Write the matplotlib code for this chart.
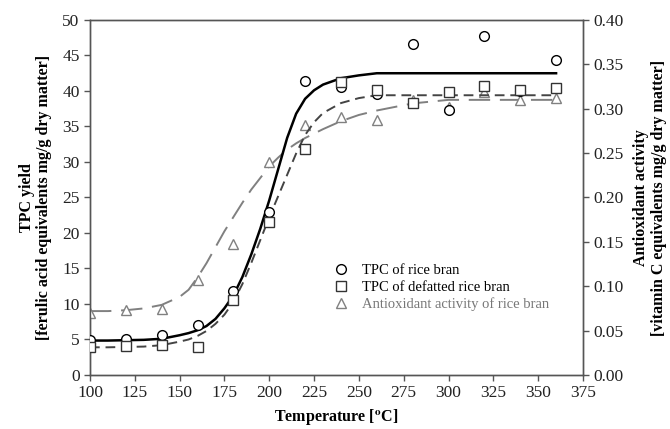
import matplotlib
matplotlib.use("Agg")
import matplotlib.pyplot as plt

plt.rcParams['font.family'] = ['Liberation Serif', 'DejaVu Serif']
plt.rcParams['mathtext.fontset'] = 'stix'

# measured points
temp = [100, 120, 140, 160, 180, 200, 220, 240, 260, 280, 300, 320, 340, 360]
tpc_rice = [4.9, 5.1, 5.6, 7.0, 11.8, 23.0, 41.4, 40.6, 39.6, 46.6, 37.3, 47.8, 40.0, 44.3]
tpc_defat = [3.9, 4.1, 4.2, 4.0, 10.5, 21.6, 31.8, 41.3, 40.2, 38.3, 39.8, 40.7, 40.1, 40.4]
antiox = [0.070, 0.073, 0.074, 0.107, 0.148, 0.240, 0.282, 0.291, 0.287, 0.310, 0.302, 0.319, 0.310, 0.312]

# fitted curves
fit_t = [100, 110, 120, 130, 140, 150, 155, 160, 165, 170, 175, 180, 185, 190, 195,
         200, 205, 210, 215, 220, 225, 230, 240, 250, 260, 280, 300, 320, 340, 360]
fit_rice = [4.85, 4.85, 4.9, 4.95, 5.1, 5.6, 5.9, 6.3, 6.9, 7.9, 9.4, 11.2, 13.8, 17.0, 20.6,
            24.6, 29.0, 33.4, 36.8, 38.9, 40.1, 40.9, 41.8, 42.2, 42.5, 42.5, 42.5, 42.5, 42.5, 42.5]
fit_defat = [3.9, 3.9, 3.95, 4.0, 4.2, 4.7, 5.0, 5.5, 6.2, 7.2, 8.5, 10.3, 12.8, 15.8, 19.0,
             22.2, 25.2, 28.2, 31.2, 33.8, 35.6, 36.9, 38.3, 39.0, 39.4, 39.4, 39.4, 39.4, 39.4, 39.4]
fit_antiox = [0.072, 0.072, 0.073, 0.075, 0.079, 0.088, 0.096, 0.110, 0.126, 0.144, 0.162, 0.178,
              0.194, 0.209, 0.222, 0.235, 0.245, 0.254, 0.261, 0.267, 0.272, 0.277, 0.286, 0.293,
              0.298, 0.306, 0.310, 0.310, 0.310, 0.310]

fig = plt.figure(figsize=(6.7, 4.29), dpi=100)
ax = fig.add_axes([0.1343, 0.1259, 0.7358, 0.8275])
ax2 = ax.twinx()

spine_col = '#555555'
ax.plot(fit_t, fit_rice, color='black', lw=1.8, zorder=3)
ax.plot(fit_t, fit_defat, color='#444444', lw=1.4, dashes=(5, 3), zorder=3)
ax2.plot(fit_t, fit_antiox, color='#808080', lw=1.4, dashes=(11, 5), zorder=3)

ax.plot(temp, tpc_rice, 'o', mfc='white', mec='black', ms=7, mew=1.0, zorder=4,
        label='TPC of rice bran')
ax.plot(temp, tpc_defat, 's', mfc='white', mec='#333333', ms=7, mew=1.0, zorder=4,
        label='TPC of defatted rice bran')
ax2.plot(temp, antiox, '^', mfc='white', mec='#808080', ms=7.5, mew=1.0, zorder=4,
         label='Antioxidant activity of rice bran')

ax.set_xlim(100, 375)
ax.set_ylim(0, 50)
ax2.set_ylim(0, 0.40)
ax.set_xticks(range(100, 376, 25))
ax.set_yticks(range(0, 51, 5))
ax2.set_yticks([i * 0.05 for i in range(9)])
ax2.set_yticklabels(['%.2f' % (i * 0.05) for i in range(9)])

for a in (ax, ax2):
    for s in a.spines.values():
        s.set_color(spine_col)
        s.set_linewidth(1.0)
    a.tick_params(colors=spine_col, labelcolor='#222222', labelsize=12.5,
                  direction='out', length=4, width=1.0)
ax.patch.set_alpha(0)
ax.set_zorder(ax2.get_zorder() + 1)

ax.set_xlabel('Temperature [$^{\\mathbf{o}}$C]', fontsize=11.5, fontweight='bold', labelpad=4)
ax.set_ylabel('TPC yield\n[ferulic acid equivalents mg/g dry matter]',
              fontsize=11.5, fontweight='bold', labelpad=7, linespacing=1.1)
ax2.set_ylabel('Antioxidant activity\n[vitamin C equivalents mg/g dry matter]',
               fontsize=11.5, fontweight='bold', labelpad=7, linespacing=1.1)

h1, l1 = ax.get_legend_handles_labels()
h2, l2 = ax2.get_legend_handles_labels()
leg = ax.legend(h1 + h2, l1 + l2, loc='upper left', bbox_to_anchor=(0.465, 0.35),
                frameon=False, fontsize=10.5, handlelength=1.2, handletextpad=0.8,
                labelspacing=0.25)
for txt, c in zip(leg.get_texts(), ['black', 'black', '#777777']):
    txt.set_color(c)

fig.savefig('out.png', dpi=100)
